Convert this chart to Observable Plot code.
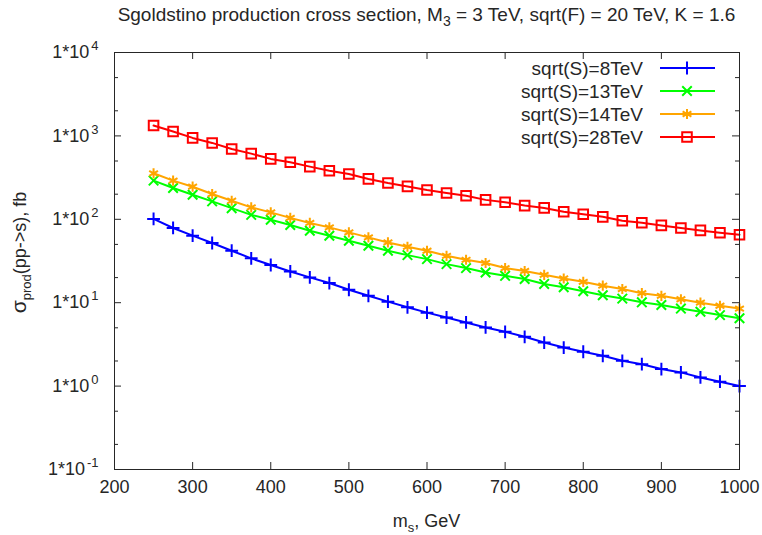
<!DOCTYPE html>
<html>
<head>
<meta charset="utf-8">
<script src="https://cdn.jsdelivr.net/npm/d3@7"></script>
<script src="https://cdn.jsdelivr.net/npm/@observablehq/plot@0.6"></script>
<style>
  html, body { margin: 0; padding: 0; background: #fff; }
  #chart svg { font-family: "Liberation Sans", Arial, sans-serif; display: block; }
</style>
</head>
<body>
<div id="chart"></div>
<script>
// ---- data ----
const mass = [250, 275, 300, 325, 350, 375, 400, 425, 450, 475, 500, 525, 550, 575, 600, 625,
              650, 675, 700, 725, 750, 775, 800, 825, 850, 875, 900, 925, 950, 975, 1000];
const sigma8 = [101, 78.7, 63.6, 52, 42, 34, 28.3, 23.7, 20.1, 17.2, 14.3, 12.1, 10.3, 8.8, 7.6, 6.65,
                5.8, 5.05, 4.48, 3.9, 3.33, 2.9, 2.58, 2.31, 2.01, 1.83, 1.6, 1.46, 1.27, 1.13, 1.0];
const sigma13 = [291, 237, 197, 164, 136, 113, 98.8, 85.4, 72.9, 63.5, 55.3, 48.2, 42, 37.2, 33.3, 29,
                 26, 23, 21, 19.2, 16.8, 15.3, 13.7, 12.3, 11.2, 10.1, 9.4, 8.5, 7.8, 7.1, 6.5];
const sigma14 = [356, 291, 246, 201, 167, 139, 121, 104, 90.4, 80, 69.7, 60.7, 52.8, 46.9, 42, 36.5,
                 32.7, 29.9, 26, 24, 21.6, 19.5, 17.8, 16, 14.6, 13, 12.1, 11.0, 10, 9.2, 8.5];
const sigma28 = [1330, 1127, 946, 824, 698, 613, 530, 482, 428, 383, 350, 305, 273, 248, 225, 207,
                 192, 171, 160, 146, 137, 123, 115, 107, 96, 91, 84.5, 78.7, 73.6, 69, 65.3];

const seriesNames = ["sqrt(S)=8TeV", "sqrt(S)=13TeV", "sqrt(S)=14TeV", "sqrt(S)=28TeV"];
const seriesValues = [sigma8, sigma13, sigma14, sigma28];
const seriesColors = ["#0000ff", "#00ff00", "#ffa500", "#ff0000"];
const seriesSymbols = ["plus", "times", "asterisk", "square"];
const seriesR = [4.2, 4.4, 4.8, 5.4];

const xTicks = [200, 300, 400, 500, 600, 700, 800, 900, 1000];
const yMajor = [0.1, 1, 10, 100, 1000, 10000];
const yExp = ["-1", "0", "1", "2", "3", "4"];
const yMinor = [0.2, 0.5, 2, 5, 20, 50, 200, 500, 2000, 5000];

const titleText = ["Sgoldstino production cross section, M", "3", " = 3 TeV, sqrt(F) = 20 TeV, K = 1.6"];

// ---- layout ----
const W = 762, H = 535;
const mL = 114, mR = 23, mT = 52, mB = 66;
const pw = W - mL - mR, ph = H - mT - mB;
const FS = 18;
const ink = "#262626";

const rows = seriesNames.flatMap((name, k) =>
  mass.map((m, i) => ({series: name, k, m, v: seriesValues[k][i]})));

const marks = [];
// ticks (inward, mirrored)
marks.push(Plot.tickX(xTicks, {x: d => d, insetTop: ph - 7, stroke: ink, strokeWidth: 1}));
marks.push(Plot.tickX(xTicks, {x: d => d, insetBottom: ph - 7, stroke: ink, strokeWidth: 1}));
marks.push(Plot.tickY(yMajor, {y: d => d, insetRight: pw - 7, stroke: ink, strokeWidth: 1}));
marks.push(Plot.tickY(yMajor, {y: d => d, insetLeft: pw - 7, stroke: ink, strokeWidth: 1}));
marks.push(Plot.tickY(yMinor, {y: d => d, insetRight: pw - 4, stroke: ink, strokeWidth: 1}));
marks.push(Plot.tickY(yMinor, {y: d => d, insetLeft: pw - 4, stroke: ink, strokeWidth: 1}));
// tick labels
marks.push(Plot.text(xTicks, {x: d => d, frameAnchor: "bottom", dy: 23, text: d => String(d),
  fontSize: FS, fill: ink}));
marks.push(Plot.text(yMajor, {y: d => d, frameAnchor: "left", dx: -16, textAnchor: "end",
  text: (d, i) => "1*10^" + yExp[i], fontSize: FS, fill: ink}));
// series
seriesNames.forEach((name, k) => {
  const data = rows.filter(r => r.k === k);
  marks.push(Plot.line(data, {x: "m", y: "v", stroke: seriesColors[k], strokeWidth: 2}));
  marks.push(Plot.dot(data, {x: "m", y: "v", stroke: seriesColors[k], fill: "none",
    symbol: seriesSymbols[k], r: seriesR[k], strokeWidth: 2}));
});
marks.push(Plot.frame({stroke: ink, strokeWidth: 1}));

const plot = Plot.plot({
  width: W, height: H,
  marginLeft: mL, marginRight: mR, marginTop: mT, marginBottom: mB,
  style: {fontFamily: '"Liberation Sans", Arial, sans-serif', background: "#fff"},
  x: {domain: [200, 1000], axis: null},
  y: {type: "log", domain: [0.1, 10000], axis: null},
  marks
});
document.getElementById("chart").appendChild(plot);

const svg = d3.select(plot);
// superscripts on y tick labels
svg.selectAll("text").each(function() {
  const t = this.textContent;
  if (t.includes("^")) {
    const [base, ex] = t.split("^");
    const el = d3.select(this);
    el.text(null);
    el.append("tspan").text(base);
    el.append("tspan").attr("dy", -8).attr("dx", 2).attr("font-size", 13).text(ex);
  }
});

// title
const title = svg.append("text")
  .attr("x", mL + pw / 2).attr("y", 21)
  .attr("text-anchor", "middle").attr("font-size", 19).attr("fill", ink);
title.append("tspan").text(titleText[0]);
title.append("tspan").attr("dy", 5).attr("font-size", 14).text(titleText[1]);
title.append("tspan").attr("dy", -5).text(titleText[2]);

// x label
const xl = svg.append("text")
  .attr("x", mL + pw / 2).attr("y", 527)
  .attr("text-anchor", "middle").attr("font-size", FS).attr("fill", ink);
xl.append("tspan").text("m");
xl.append("tspan").attr("dy", 5).attr("font-size", 13).text("s");
xl.append("tspan").attr("dy", -5).text(", GeV");

// y label
const yl = svg.append("text")
  .attr("transform", `translate(26,${mT + ph / 2 - 8}) rotate(-90)`)
  .attr("text-anchor", "middle").attr("font-size", FS).attr("fill", ink);
yl.append("tspan").attr("font-size", 21).text("σ");
yl.append("tspan").attr("dy", 5).attr("font-size", 13).text("prod");
yl.append("tspan").attr("dy", -5).text("(pp->s), fb");

// legend (inside the frame, top right)
const legend = svg.append("g");
const symMap = {plus: d3.symbolPlus, times: d3.symbolTimes || d3.symbolX,
                asterisk: d3.symbolAsterisk, square: d3.symbolSquare};
seriesNames.forEach((name, k) => {
  const cy = 68 + k * 23;
  legend.append("text").attr("x", 643).attr("y", cy).attr("dy", "0.35em")
    .attr("text-anchor", "end").attr("font-size", 19).attr("fill", ink).text(name);
  legend.append("line").attr("x1", 660).attr("x2", 715).attr("y1", cy).attr("y2", cy)
    .attr("stroke", seriesColors[k]).attr("stroke-width", 2);
  legend.append("path")
    .attr("transform", `translate(687,${cy})`)
    .attr("d", d3.symbol(symMap[seriesSymbols[k]], Math.PI * seriesR[k] * seriesR[k])())
    .attr("fill", "none").attr("stroke", seriesColors[k]).attr("stroke-width", 2);
});
</script>
</body>
</html>
